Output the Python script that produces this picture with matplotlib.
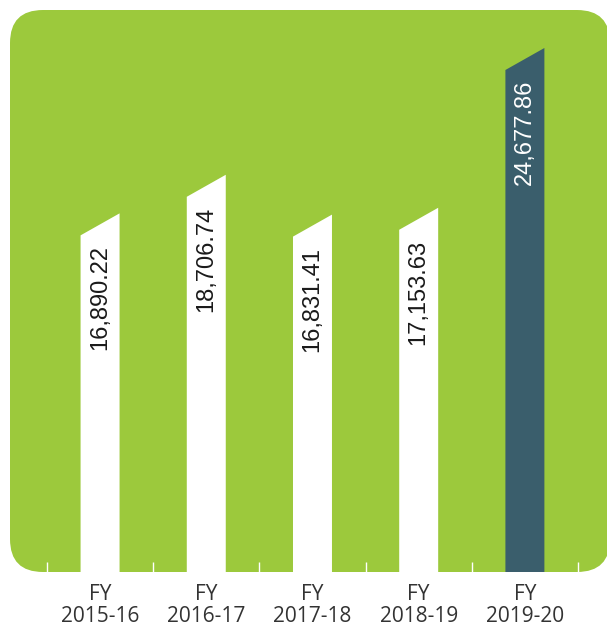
import matplotlib

matplotlib.use("Agg")

import matplotlib.pyplot as plt
from matplotlib.patches import FancyBboxPatch, Polygon
from matplotlib.transforms import IdentityTransform

# Expenditure per financial year
years = ["FY\n2015-16", "FY\n2016-17", "FY\n2017-18", "FY\n2018-19", "FY\n2019-20"]
values = [16890.22, 18706.74, 16831.41, 17153.63, 24677.86]
value_labels = ["16,890.22", "18,706.74", "16,831.41", "17,153.63", "24,677.86"]

GREEN = "#9cc93c"
SLATE = "#3a5e6c"

W, H = 607, 629
fig = plt.figure(figsize=(W / 100, H / 100), dpi=100)

# green panel with rounded corners, in pixels (it runs a little past the right edge)
panel = FancyBboxPatch(
    (10, H - 572), 600, 562,
    boxstyle="round,pad=0,rounding_size=33",
    facecolor=GREEN, edgecolor="none",
    transform=IdentityTransform(), zorder=-1,
)
fig.add_artist(panel)

ax = fig.add_axes([10 / W, (H - 572) / H, 597 / W, 562 / H])
ax.set_facecolor("none")
for spine in ax.spines.values():
    spine.set_visible(False)

ax.set_xlim(-0.848, 4.773)
ax.set_ylim(0, 26467)

bar_width = 0.367
cut = 1036  # slanted top: left corner sits lower than the right one

for i, (v, lab) in enumerate(zip(values, value_labels)):
    last = i == len(values) - 1
    colour = SLATE if last else "white"
    x0, x1 = i - bar_width / 2, i + bar_width / 2
    ax.add_patch(Polygon(
        [(x0, 0), (x1, 0), (x1, v), (x0, v - cut)],
        closed=True, facecolor=colour, edgecolor="none", zorder=2,
    ))
    ax.annotate(
        lab, xy=(i, v - cut), xytext=(0, -10), textcoords="offset pixels",
        rotation=90, ha="center", va="top",
        fontsize=17, family="Liberation Sans",
        color="white" if last else "#1a1a1a", zorder=3,
    )

ax.set_yticks([])
ax.set_xticks(range(len(years)))
ax.set_xticklabels(years, family="Open Sans", fontsize=15, color="#333333",
                   linespacing=1.05)
ax.tick_params(axis="x", which="major", length=0, pad=9)
ax.set_xticks([i - 0.5 for i in range(len(years) + 1)], minor=True)
ax.tick_params(axis="x", which="minor", direction="in", length=7, width=1,
               color="white")
for t in ax.xaxis.get_minorticklines():
    t.set_zorder(4)

fig.savefig("out.png", dpi=100)
